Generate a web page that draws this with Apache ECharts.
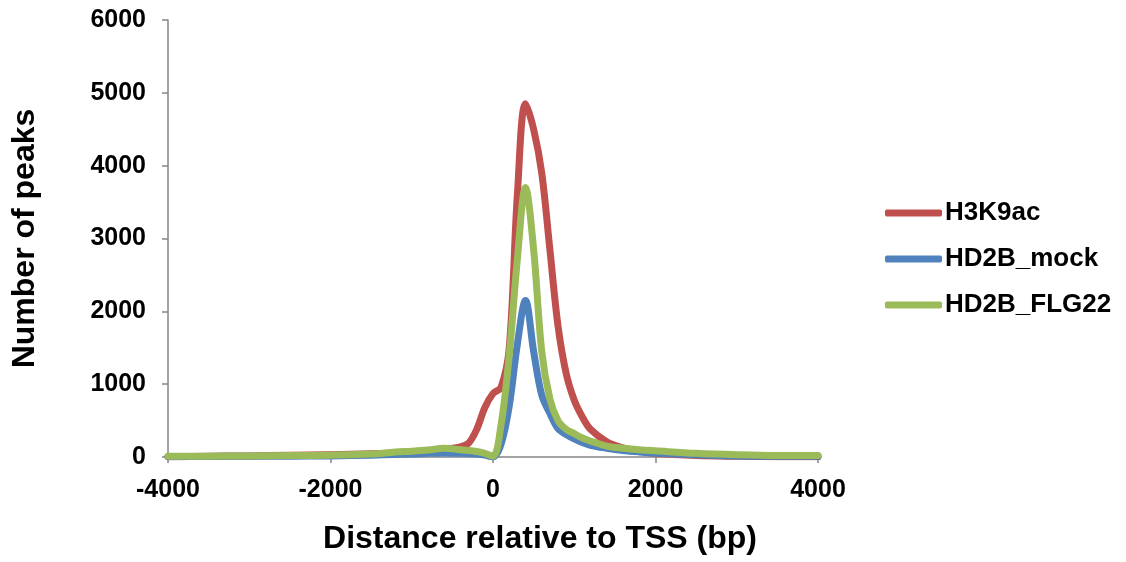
<!DOCTYPE html>
<html>
<head>
<meta charset="utf-8">
<script src="https://cdn.jsdelivr.net/npm/echarts@6/dist/echarts.min.js"></script>
<style>
  html, body { margin: 0; padding: 0; background: #fff; }
  #chart { width: 1126px; height: 562px; }
</style>
</head>
<body>
<div id="chart"></div>
<script>
// Distance from the TSS (bp) for each sampled bin
const distances = [-4000, -3500, -3000, -2500, -2000, -1500, -1200, -1000, -800, -600, -400, -300, -200, -100, 0,
  100, 200, 300, 400, 500, 600, 700, 800, 900, 1000, 1100, 1200, 1400, 1600, 1800, 2000, 2500, 3000, 3500, 4000];

// Number of peaks per bin
const h3k9ac = [5, 10, 15, 25, 30, 45, 55, 70, 85, 105, 140, 190, 380, 680, 870,
  960, 1500, 3600, 4850, 4500, 3900, 2850, 1800, 1150, 780, 550, 380, 210, 125, 80, 50, 20, 10, 5, 5];
const hd2bMock = [5, 8, 10, 12, 15, 25, 35, 40, 50, 55, 50, 45, 40, 25, 0,
  180, 700, 1550, 2150, 1450, 850, 600, 390, 310, 250, 200, 160, 120, 90, 70, 55, 30, 15, 10, 10];
const hd2bFlg22 = [10, 12, 15, 20, 25, 40, 70, 80, 95, 120, 100, 90, 75, 50, 10,
  450, 1400, 2720, 3700, 2850, 1450, 800, 500, 380, 320, 260, 220, 150, 120, 100, 85, 50, 30, 20, 20];

const seriesNames = ['H3K9ac', 'HD2B_mock', 'HD2B_FLG22'];
const seriesColors = ['#C0504D', '#4F81BD', '#9BBB59'];
const seriesValues = [h3k9ac, hd2bMock, hd2bFlg22];

const font = '"Liberation Sans", Arial, sans-serif';
const axisGrey = '#868686';
const plain = v => String(v);

const chart = echarts.init(document.getElementById('chart'), null, { renderer: 'canvas' });

chart.setOption({
  animation: false,
  backgroundColor: '#ffffff',
  grid: { left: 168, right: 308, top: 20, bottom: 105, containLabel: false },
  legend: {
    orient: 'vertical',
    left: 885,
    top: 200,
    padding: 0,
    icon: 'roundRect',
    itemWidth: 57,
    itemHeight: 7,
    itemGap: 20,
    data: seriesNames,
    textStyle: { fontFamily: font, fontWeight: 'bold', fontSize: 26, color: '#000', lineHeight: 26, padding: [0, 0, 0, -2] }
  },
  xAxis: {
    type: 'value',
    min: -4000,
    max: 4000,
    interval: 2000,
    name: 'Distance relative to TSS (bp)',
    nameLocation: 'middle',
    nameGap: 66,
    // title sits a little right of the plot centre, under the whole figure
    nameTextStyle: { fontFamily: font, fontWeight: 'bold', fontSize: 32, color: '#000', padding: [0, 0, 0, 94] },
    axisLine: { onZero: false, lineStyle: { color: axisGrey, width: 1.5 } },
    axisTick: { show: true, inside: false, length: 6, lineStyle: { color: axisGrey, width: 1.5 } },
    axisLabel: { margin: 21, fontFamily: font, fontWeight: 'bold', fontSize: 25, color: '#000', formatter: plain },
    splitLine: { show: false }
  },
  yAxis: {
    type: 'value',
    min: 0,
    max: 6000,
    interval: 1000,
    name: 'Number of peaks',
    nameLocation: 'middle',
    nameGap: 127,
    nameTextStyle: { fontFamily: font, fontWeight: 'bold', fontSize: 32, color: '#000' },
    axisLine: { show: true, onZero: false, lineStyle: { color: axisGrey, width: 1.5 } },
    axisTick: { show: true, inside: false, length: 6, lineStyle: { color: axisGrey, width: 1.5 } },
    axisLabel: { margin: 22, fontFamily: font, fontWeight: 'bold', fontSize: 25, color: '#000', formatter: plain },
    splitLine: { show: false }
  },
  series: seriesNames.map((name, i) => ({
    name: name,
    type: 'line',
    smooth: 0.35,
    showSymbol: false,
    symbol: 'none',
    color: seriesColors[i],
    lineStyle: { width: 7, color: seriesColors[i], cap: 'round', join: 'round' },
    data: distances.map((d, k) => [d, seriesValues[i][k]]),
    z: 2 + i
  }))
});
</script>
</body>
</html>
